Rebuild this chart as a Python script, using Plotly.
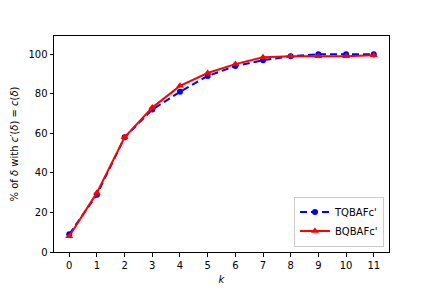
import plotly.graph_objects as go

k = list(range(12))
tq = [9, 29, 58, 72, 81, 89, 94, 97, 99, 100, 100, 100]
bq = [8, 30, 58, 73, 84, 90.5, 95, 98.5, 99, 99, 99, 99.5]
xticks = list(range(12))
yticks = [0, 20, 40, 60, 80, 100]

fig = go.Figure()
fig.add_trace(go.Scatter(x=k, y=tq, name="TQBAFc'", mode="lines+markers",
                         line=dict(color="blue", width=2, dash="7px,4px"),
                         marker=dict(symbol="circle", size=6, color="blue")))
fig.add_trace(go.Scatter(x=k, y=bq, name="BQBAFc'", mode="lines+markers",
                         line=dict(color="red", width=2),
                         marker=dict(symbol="triangle-up", size=7, color="red")))

axis_common = dict(showgrid=False, zeroline=False, showline=True, linecolor="black",
                   linewidth=1, mirror=True, ticks="outside", ticklen=3.5,
                   tickcolor="black", tickfont=dict(size=10, color="black"),
                   automargin=False)
fig.update_layout(
    template="none",
    width=432, height=288,
    margin=dict(l=54, r=43, t=36, b=36),
    paper_bgcolor="white", plot_bgcolor="white",
    font=dict(family="DejaVu Sans", size=10, color="black"),
    xaxis=dict(range=[-0.55, 11.55], tickvals=xticks,
               title=dict(text="<i>k</i>", standoff=6, font=dict(size=10)), **axis_common),
    yaxis=dict(range=[0, 109.2], tickvals=yticks,
               title=dict(text="% of <i>δ</i> with <i>c</i>′(<i>δ</i>) = <i>c</i>(<i>δ</i>)",
                          standoff=7, font=dict(size=10)), **axis_common),
    legend=dict(x=0.985, y=0.025, xanchor="right", yanchor="bottom",
                bgcolor="rgba(255,255,255,0.8)", bordercolor="#cccccc", borderwidth=1,
                itemwidth=30, tracegroupgap=0,
                font=dict(size=10)),
)
fig.write_html("out.html", include_plotlyjs=True, full_html=True,
               default_width="432px", default_height="288px",
               config={"displayModeBar": False},
               post_script="document.body.style.margin='0';")
